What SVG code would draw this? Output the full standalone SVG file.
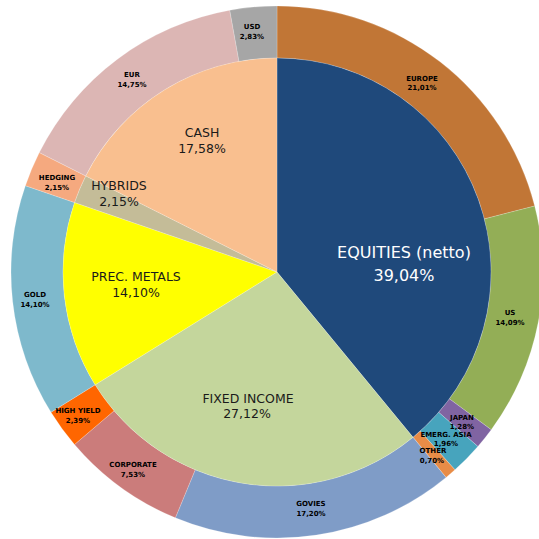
<svg xmlns="http://www.w3.org/2000/svg" width="539" height="539" viewBox="0 0 539 539">
<style>
.seg{stroke:#ffffff;stroke-width:0.4;stroke-opacity:0.5}
.big{font-family:"DejaVu Sans","Liberation Sans",sans-serif;font-size:12.5px;fill:#1a1a1a;text-anchor:middle}
.eq{font-family:"DejaVu Sans","Liberation Sans",sans-serif;font-size:16px;fill:#ffffff;text-anchor:middle}
.sm{font-family:"DejaVu Sans","Liberation Sans",sans-serif;font-size:7px;font-weight:bold;fill:#000;text-anchor:middle}
</style>
<rect width="539" height="539" fill="#ffffff"/>
<g id="outer-ring">
<g id="europe"><path class="seg" fill="#C17636" d="M277,6 A266,266 0 0 1 534.68,206.01 L484.31,218.91 A214,214 0 0 0 277,58 Z"/></g>
<g id="us"><path class="seg" fill="#93AE56" d="M534.68,206.01 A266,266 0 0 1 491.21,429.70 L449.34,398.87 A214,214 0 0 0 484.31,218.91 Z"/></g>
<g id="japan"><path class="seg" fill="#8064A2" d="M491.21,429.70 A266,266 0 0 1 477.85,446.40 L438.59,412.31 A214,214 0 0 0 449.34,398.87 Z"/></g>
<g id="emerg-asia"><path class="seg" fill="#47A4BD" d="M477.85,446.40 A266,266 0 0 1 454.91,469.75 L420.13,431.09 A214,214 0 0 0 438.59,412.31 Z"/></g>
<g id="other"><path class="seg" fill="#E88C47" d="M454.91,469.75 A266,266 0 0 1 446.04,477.38 L412.99,437.23 A214,214 0 0 0 420.13,431.09 Z"/></g>
<g id="govies"><path class="seg" fill="#7F9CC7" d="M446.04,477.38 A266,266 0 0 1 175.36,517.82 L195.23,469.76 A214,214 0 0 0 412.99,437.23 Z"/></g>
<g id="corporate"><path class="seg" fill="#CB7C7B" d="M175.36,517.82 A266,266 0 0 1 74.51,444.50 L114.10,410.78 A214,214 0 0 0 195.23,469.76 Z"/></g>
<g id="high-yield"><path class="seg" fill="#FF6600" d="M74.51,444.50 A266,266 0 0 1 50.99,412.26 L95.17,384.84 A214,214 0 0 0 114.10,410.78 Z"/></g>
<g id="gold"><path class="seg" fill="#7EB9CC" d="M50.99,412.26 A266,266 0 0 1 25.40,185.68 L74.58,202.55 A214,214 0 0 0 95.17,384.84 Z"/></g>
<g id="hedging"><path class="seg" fill="#F5A97F" d="M25.40,185.68 A266,266 0 0 1 39.31,152.58 L85.78,175.93 A214,214 0 0 0 74.58,202.55 Z"/></g>
<g id="eur"><path class="seg" fill="#DCB6B4" d="M39.31,152.58 A266,266 0 0 1 229.78,10.22 L239.01,61.40 A214,214 0 0 0 85.78,175.93 Z"/></g>
<g id="usd"><path class="seg" fill="#A6A6A6" d="M229.78,10.22 A266,266 0 0 1 277,6 L277,58 A214,214 0 0 0 239.01,61.40 Z"/></g>
</g>
<g id="inner-pie">
<g id="equities"><path class="seg" fill="#1F497B" d="M277,272 L277,58 A214,214 0 0 1 412.99,437.23 Z"/></g>
<g id="fixed-income"><path class="seg" fill="#C4D69C" d="M277,272 L412.99,437.23 A214,214 0 0 1 95.17,384.84 Z"/></g>
<g id="prec-metals"><path class="seg" fill="#FFFF00" d="M277,272 L95.17,384.84 A214,214 0 0 1 74.58,202.55 Z"/></g>
<g id="hybrids"><path class="seg" fill="#C4BC98" d="M277,272 L74.58,202.55 A214,214 0 0 1 85.78,175.93 Z"/></g>
<g id="cash"><path class="seg" fill="#F9BF8F" d="M277,272 L85.78,175.93 A214,214 0 0 1 277,58 Z"/></g>
</g>
<g id="labels">
<g id="label-europe"><text class="sm" x="422" y="81">EUROPE</text><text class="sm" x="422" y="90">21,01%</text></g>
<g id="label-us"><text class="sm" x="510" y="315">US</text><text class="sm" x="510" y="325">14,09%</text></g>
<g id="label-japan"><text class="sm" x="462" y="420">JAPAN</text><text class="sm" x="462" y="429">1,28%</text></g>
<g id="label-emerg-asia"><text class="sm" x="446" y="437">EMERG. ASIA</text><text class="sm" x="446" y="446">1,96%</text></g>
<g id="label-other"><text class="sm" x="433" y="453">OTHER</text><text class="sm" x="432" y="463">0,70%</text></g>
<g id="label-govies"><text class="sm" x="311" y="506">GOVIES</text><text class="sm" x="311" y="516">17,20%</text></g>
<g id="label-corporate"><text class="sm" x="133" y="467">CORPORATE</text><text class="sm" x="133" y="477">7,53%</text></g>
<g id="label-high-yield"><text class="sm" x="78" y="413">HIGH YIELD</text><text class="sm" x="78" y="423">2,39%</text></g>
<g id="label-gold"><text class="sm" x="35" y="297">GOLD</text><text class="sm" x="35" y="307">14,10%</text></g>
<g id="label-hedging"><text class="sm" x="57" y="180">HEDGING</text><text class="sm" x="57" y="190">2,15%</text></g>
<g id="label-eur"><text class="sm" x="132" y="77">EUR</text><text class="sm" x="132" y="87">14,75%</text></g>
<g id="label-usd"><text class="sm" x="252" y="29">USD</text><text class="sm" x="252" y="39">2,83%</text></g>
<g id="label-equities"><text class="eq" x="404" y="258">EQUITIES (netto)</text><text class="eq" x="404" y="281">39,04%</text></g>
<g id="label-fixed-income"><text class="big" x="248" y="403">FIXED INCOME</text><text class="big" x="247" y="418">27,12%</text></g>
<g id="label-prec-metals"><text class="big" x="136" y="281">PREC. METALS</text><text class="big" x="136" y="297">14,10%</text></g>
<g id="label-hybrids"><text class="big" x="119" y="190">HYBRIDS</text><text class="big" x="119" y="206">2,15%</text></g>
<g id="label-cash"><text class="big" x="202" y="137">CASH</text><text class="big" x="202" y="153">17,58%</text></g>
</g>
</svg>
